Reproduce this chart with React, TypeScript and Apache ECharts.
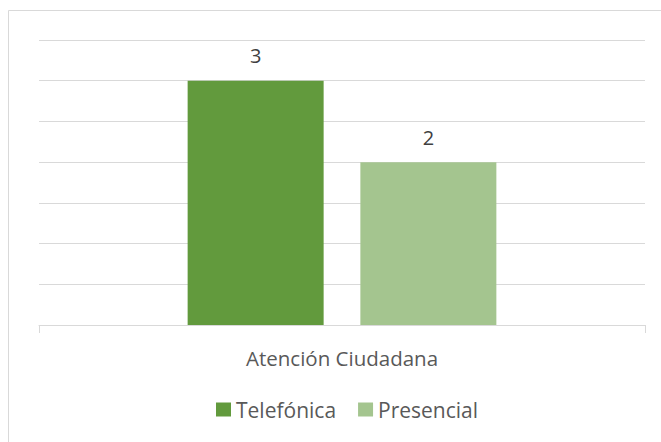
import React, { useEffect, useRef } from "react";
import * as echarts from "echarts";

const categories = ["Atención Ciudadana"];
const seriesNames = ["Telefónica", "Presencial"];
const telefonica = [3];
const presencial = [2];
const colors = ["#629a3d", "#a4c58f"];

export default function App() {
  const ref = useRef<HTMLDivElement>(null);
  useEffect(() => {
    const chart = echarts.init(ref.current!, null, { renderer: "svg" });
    const font = "'Open Sans', sans-serif";
    chart.setOption({
      animation: false,
      graphic: [
        {
          type: "rect",
          shape: { x: 8.5, y: 10.5, width: 700, height: 500 },
          style: { fill: "none", stroke: "#d9d9d9", lineWidth: 1 },
          silent: true,
        },
      ],
      grid: { left: 39, right: 16, top: 40, bottom: 117 },
      legend: {
        bottom: 17,
        left: 211,
        itemWidth: 15,
        itemHeight: 14,
        itemGap: 22,
        icon: "rect",
        textStyle: { fontFamily: font, fontSize: 21, color: "#595959" },
        data: seriesNames,
      },
      xAxis: {
        type: "category",
        data: categories,
        axisLine: { lineStyle: { color: "#d9d9d9" } },
        axisTick: { show: true, length: 8, lineStyle: { color: "#d9d9d9" } },
        axisLabel: { fontFamily: font, fontSize: 20.5, color: "#595959", margin: 22 },
      },
      yAxis: {
        type: "value",
        min: 0,
        max: 3.5,
        interval: 0.5,
        axisLabel: { show: false },
        axisLine: { show: false },
        axisTick: { show: false },
        splitLine: { lineStyle: { color: "#d9d9d9" } },
      },
      series: [
        {
          name: seriesNames[0],
          type: "bar",
          data: telefonica,
          barWidth: 136,
          barGap: "27%",
          itemStyle: { color: colors[0] },
          label: { show: true, position: "top", distance: 15, fontFamily: font, fontSize: 20, color: "#404040" },
        },
        {
          name: seriesNames[1],
          type: "bar",
          data: presencial,
          barWidth: 136,
          itemStyle: { color: colors[1] },
          label: { show: true, position: "top", distance: 15, fontFamily: font, fontSize: 20, color: "#404040" },
        },
      ],
    });
    return () => chart.dispose();
  }, []);
  return (
    <div
      ref={ref}
      style={{ position: "absolute", left: 0, top: 0, width: 661, height: 442, background: "#fff" }}
    />
  );
}
